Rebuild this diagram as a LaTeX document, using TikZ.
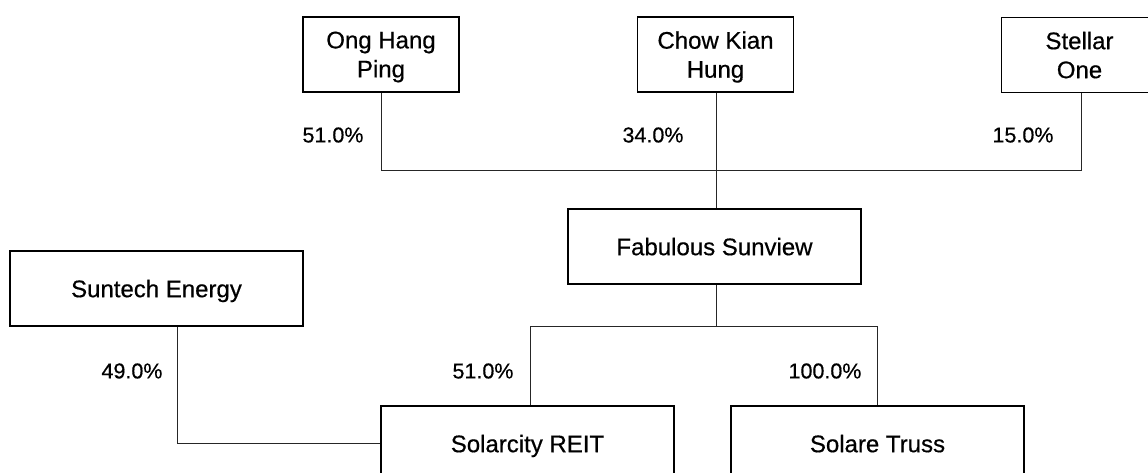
\documentclass[tikz,border=0pt]{standalone}
\usepackage{fontspec}
\setmainfont{Liberation Sans}[FakeBold=0.5]
\begin{document}
\begin{tikzpicture}[x=1pt,y=-1pt,
  entity/.style={draw=black,line width=1.6pt,fill=white,inner sep=0pt,
    minimum height=75pt,align=center,text depth=0pt,
    font=\fontsize{24}{29}\selectfont},
  small/.style={entity,minimum width=156pt},
  wide/.style={entity,minimum width=293pt},
  link/.style={draw=black!85,line width=1pt},
  share/.style={font=\fontsize{21.5}{25}\selectfont,inner sep=0pt}]
  \useasboundingbox (0,0) rectangle (1148,473);
  \clip (0,0) rectangle (1148,473);

  % shareholders
  \node[small] (ong) at (381,54.5) {Ong Hang\\Ping};
  \node[small] (chow) at (715.5,54.5) {Chow Kian\\Hung};
  \node[small] (stellar) at (1079.5,55) {Stellar\\One};

  % holding company and its group
  \node[wide] (fab) at (714.5,246.5) {Fabulous Sunview};
  \node[wide] (suntech) at (156.5,288.5) {Suntech Energy};
  \node[wide] (solarcity) at (527.5,443.5) {Solarcity REIT};
  \node[wide] (truss) at (877.5,443.5) {Solare Truss};

  % ownership bus into Fabulous Sunview
  \coordinate (topbus) at (716,171);
  \draw[link] (ong.south) |- (topbus);
  \draw[link] (stellar.south -| 1081,0) |- (topbus);
  \draw[link] (chow.south -| 716,0) -- (fab.north -| 716,0);

  % Fabulous Sunview down to its subsidiaries
  \coordinate (lowbus) at (716,326);
  \draw[link] (fab.south -| 716,0) -- (lowbus);
  \draw[link] (lowbus) -| (solarcity.north -| 530,0);
  \draw[link] (lowbus) -| (truss.north);

  % Suntech Energy into Solarcity REIT
  \draw[link] (suntech.south -| 177,0) |- (solarcity.west);

  % percentages
  \node[share] (p1) at (333,135) {51.0\%};
  \node[share] (p2) at (653,135) {34.0\%};
  \node[share] (p3) at (1023,135) {15.0\%};
  \node[share] (p4) at (132,371) {49.0\%};
  \node[share] (p5) at (483,371) {51.0\%};
  \node[share] (p6) at (825,371) {100.0\%};
\end{tikzpicture}
\end{document}
